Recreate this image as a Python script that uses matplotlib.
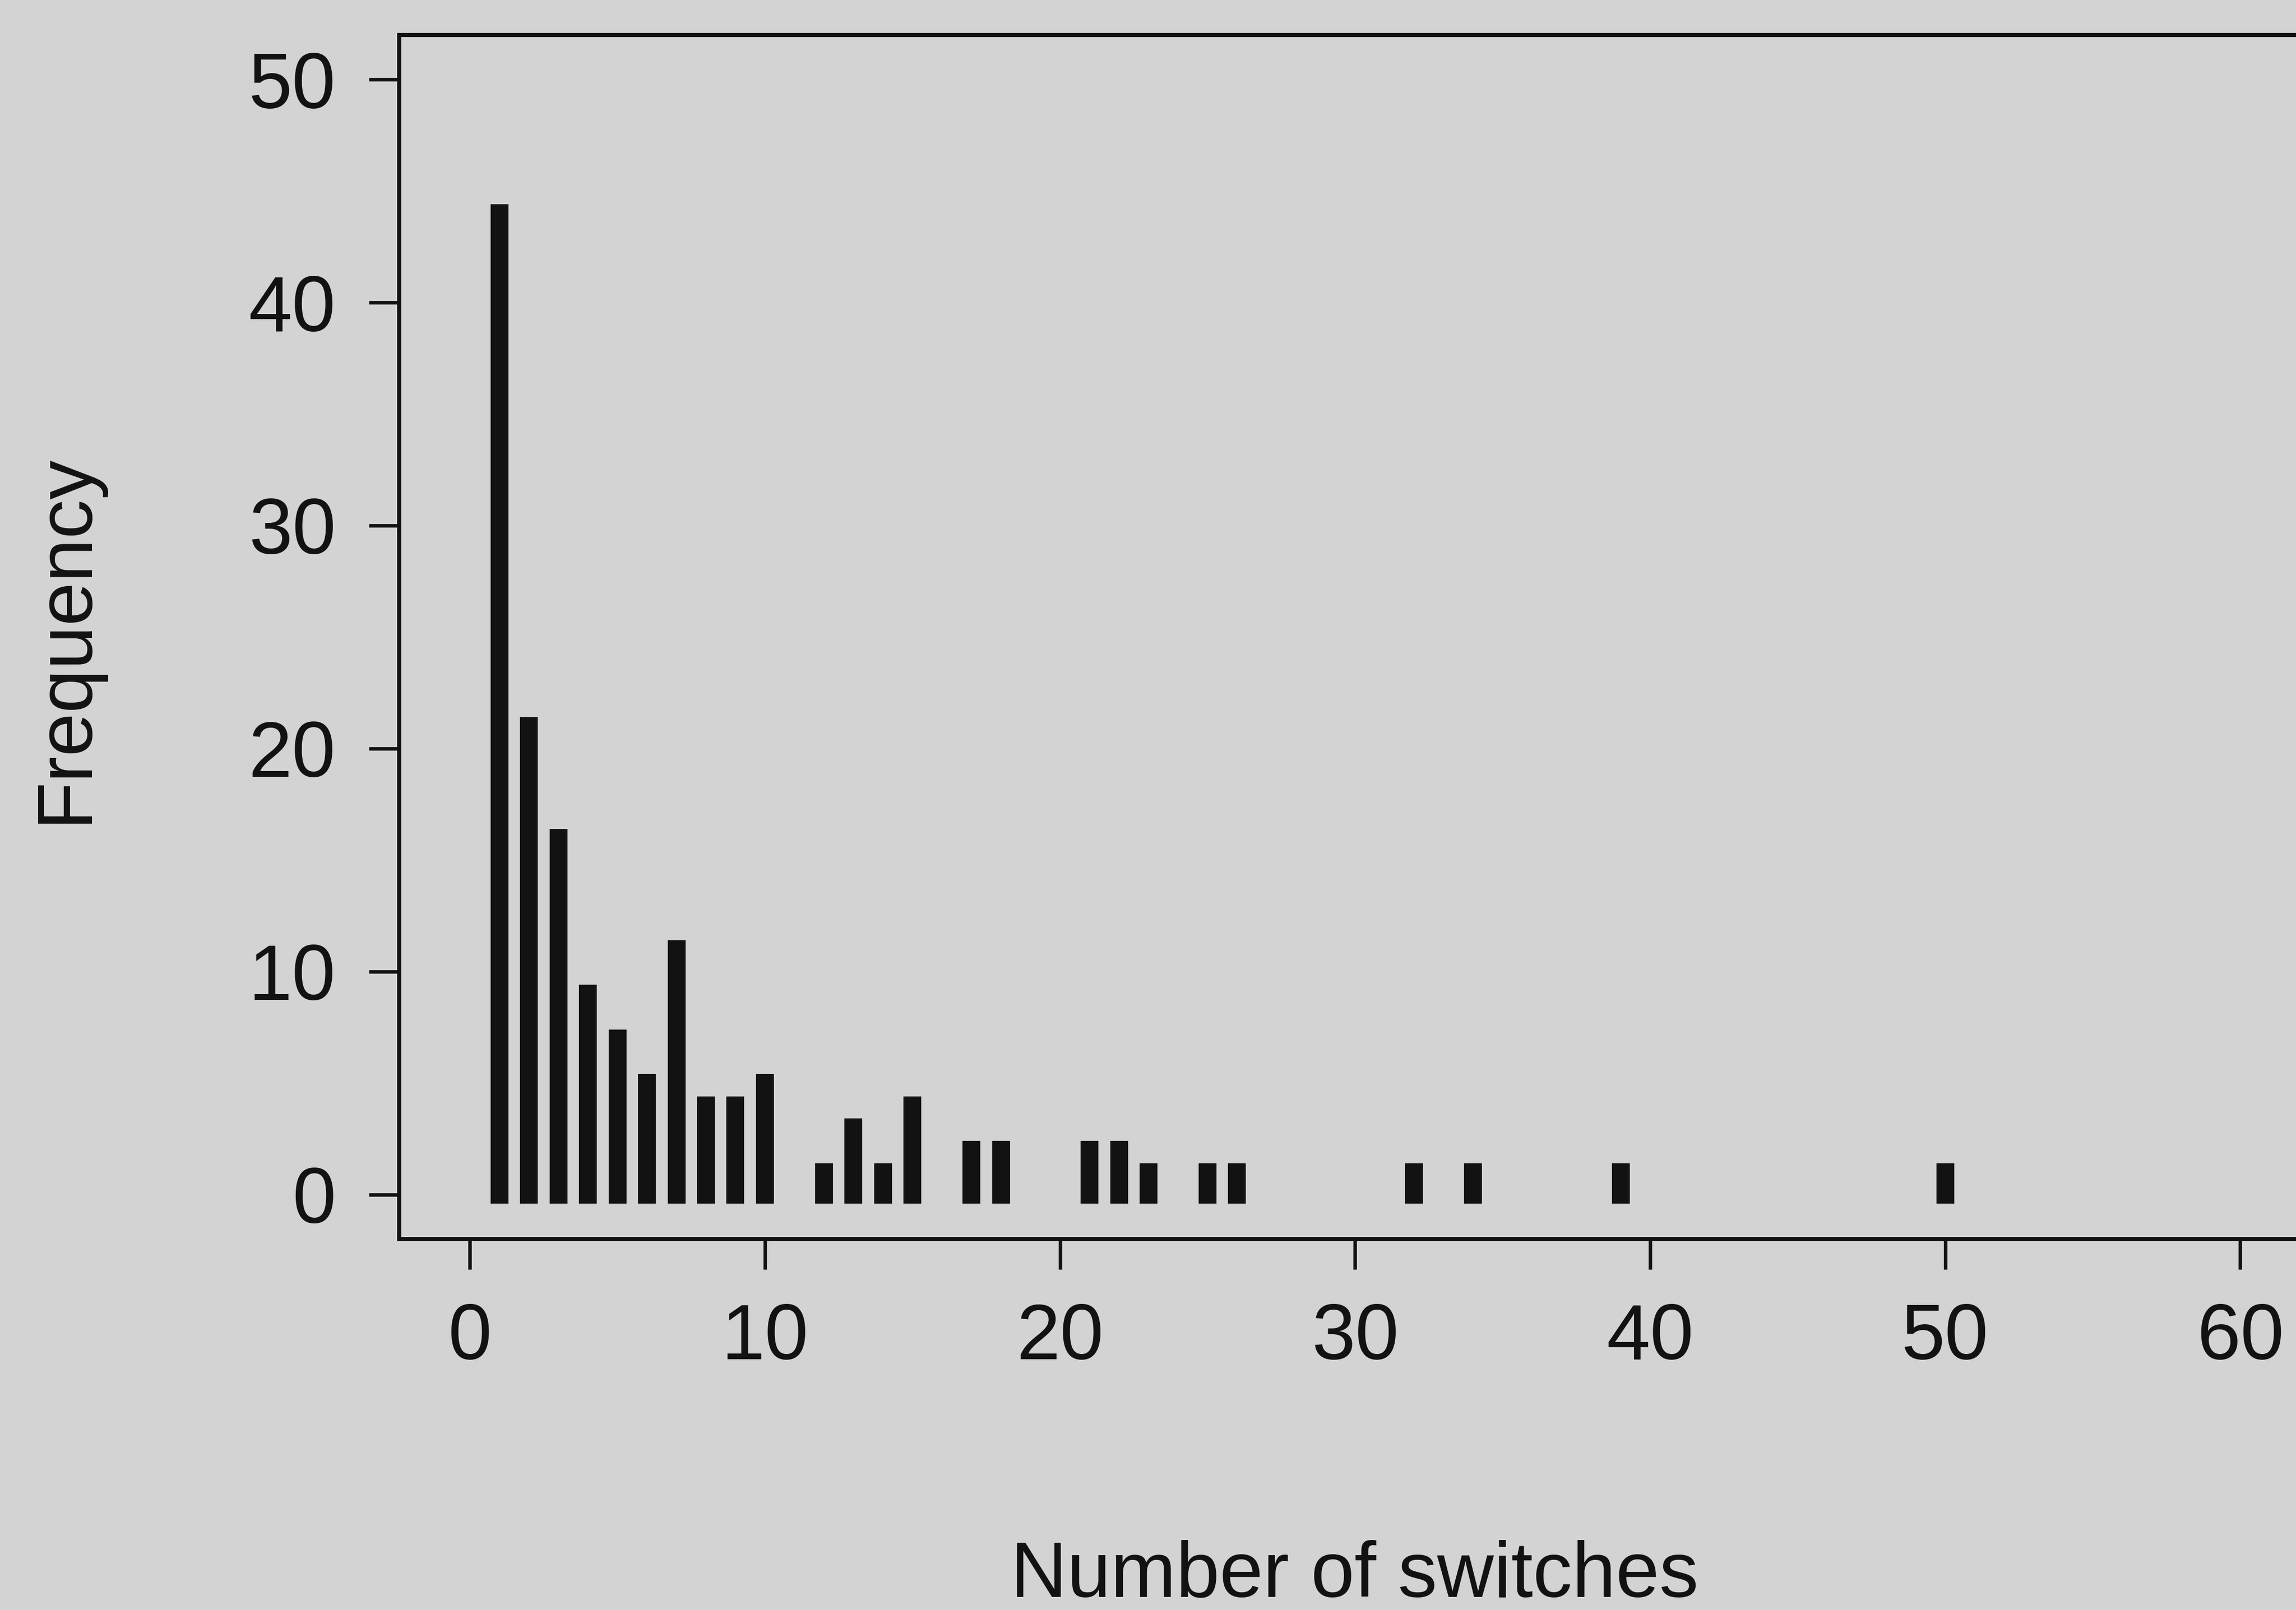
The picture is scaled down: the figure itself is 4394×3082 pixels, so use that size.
from matplotlib import pyplot as plt

# number of switches observed and how often each occurred
switches = [1, 2, 3, 4, 5, 6, 7, 8, 9, 10, 12, 13, 14, 15, 17, 18,
            21, 22, 23, 25, 26, 32, 34, 39, 50]
frequency = [44, 21, 16, 9, 7, 5, 11, 4, 4, 5, 1, 3, 1, 4, 2, 2,
             2, 2, 1, 1, 1, 1, 1, 1, 1]

x_ticks = [0, 10, 20, 30, 40, 50, 60]
y_ticks = [0, 10, 20, 30, 40, 50]

BG = "#d3d3d3"
INK = "#121212"

plt.rcParams["font.family"] = ["Liberation Sans", "DejaVu Sans"]

fig = plt.figure(figsize=(4394 / 300, 3082 / 300), dpi=300, facecolor=BG)
ax = fig.add_axes([0.1738, 0.2304, 0.8328, 0.7479])
ax.set_facecolor(BG)

ax.vlines(switches, 0, frequency, colors=INK, linewidth=8.2,
          capstyle="projecting")

# R style axis extension of 4 % on both ends
ax.set_xlim(-2.4, 62.4)
ax.set_ylim(-2, 52)
ax.set_xticks(x_ticks)
ax.set_yticks(y_ticks)
ax.tick_params(direction="out", length=14, width=1.6, color=INK,
               labelsize=36, labelcolor=INK, pad=15)
for spine in ax.spines.values():
    spine.set_linewidth(1.9)
    spine.set_color(INK)

fig.text(126 / 4394, 0.6035, "Frequency", rotation=90, ha="center",
         va="center", fontsize=36, color=INK)
fig.text(0.590, 26 / 3082, "Number of switches", ha="center",
         va="baseline", fontsize=36, color=INK)

fig.savefig("out.png", dpi=300, facecolor=BG)
